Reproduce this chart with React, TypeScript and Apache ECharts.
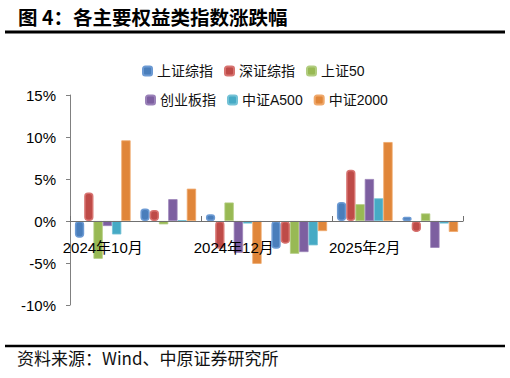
import React, { useEffect, useRef } from "react";
import * as echarts from "echarts";

const categories = ["2024年10月", "2024年11月", "2024年12月", "2025年1月", "2025年2月", "2025年3月"];
const seriesNames = ["上证综指", "深证综指", "上证50", "创业板指", "中证A500", "中证2000"];
const szzs = [-2.0, 1.5, 0.8, -3.3, 2.25, 0.5];
const szcz = [3.4, 1.3, -3.3, -2.7, 6.1, -1.3];
const sz50 = [-4.5, -0.4, 2.2, -3.9, 2.0, 0.9];
const cybz = [-0.6, 2.6, -3.8, -3.7, 5.0, -3.2];
const zzA500 = [-1.6, 0.1, -0.3, -2.9, 2.7, -0.3];
const zz2000 = [9.6, 3.85, -5.1, -1.2, 9.4, -1.3];
const yTicks = { min: -10, max: 15, interval: 5 };

const colors = ["#4A7EBB", "#BE4B48", "#98B954", "#7D5FA0", "#46AAC5", "#E0863A"];
const borders = ["#6C9AD3", "#D77370", "#B2CD80", "#9A81B8", "#74C2D6", "#EFA86B"];

const FONT = "'Liberation Sans', Arial, 'Noto Sans CJK SC', sans-serif";
const GRID = { left: 70, right: 47, top: 95, bottom: 73 };
const PLOT_H = 378 - GRID.top - GRID.bottom;

export default function App() {
  const ref = useRef<HTMLDivElement>(null);
  useEffect(() => {
    if (!ref.current) return;
    const chart = echarts.init(ref.current, undefined, { renderer: "svg" });
    const values = [szzs, szcz, sz50, cybz, zzA500, zz2000];
    const series: any[] = values.map((d, i) => ({
      name: seriesNames[i],
      type: "bar",
      data: d,
      barGap: "0%",
      barCategoryGap: "15%",
      itemStyle: {
        color: colors[i],
        borderColor: borders[i],
        borderWidth: i < 2 ? 1.5 : 0.8,
        borderRadius: i < 2 ? 3 : 0,
      },
    }));
    const zeroOffset = (PLOT_H * (0 - yTicks.min)) / (yTicks.max - yTicks.min);
    chart.setOption({
      animation: false,
      textStyle: { fontFamily: FONT },
      legend: [
        {
          data: seriesNames.slice(0, 3),
          left: 137,
          top: 59,
          itemWidth: 9,
          itemHeight: 9,
          itemGap: 11,
          icon: "roundRect",
          textStyle: { fontSize: 14, color: "#111", fontFamily: FONT },
        },
        {
          data: seriesNames.slice(3),
          left: 140,
          top: 88,
          itemWidth: 9,
          itemHeight: 9,
          itemGap: 11,
          icon: "roundRect",
          textStyle: { fontSize: 14, color: "#111", fontFamily: FONT },
        },
      ],
      grid: { ...GRID, containLabel: false },
      xAxis: {
        type: "category",
        data: categories,
        position: "bottom",
        offset: -zeroOffset,
        axisLine: { show: true, onZero: false, lineStyle: { color: "#707070", width: 1.2 } },
        axisTick: { show: true, interval: 1, inside: true, length: 5, lineStyle: { color: "#707070" } },
        axisLabel: { interval: 1, fontSize: 15, color: "#000", margin: 19, fontFamily: FONT },
        splitLine: { show: false },
        z: 5,
      },
      yAxis: {
        type: "value",
        min: yTicks.min,
        max: yTicks.max,
        interval: yTicks.interval,
        axisLine: { show: true, lineStyle: { color: "#808080", width: 1 } },
        axisTick: { show: true, length: 4, lineStyle: { color: "#808080" } },
        axisLabel: { formatter: "{value}%", fontSize: 15, color: "#000", margin: 14, fontFamily: FONT },
        splitLine: { show: false },
      },
      graphic: [
        {
          type: "text",
          left: 18,
          top: 7,
          style: {
            text: "图 4：各主要权益类指数涨跌幅",
            font: "bold 19.5px 'Noto Sans CJK SC', sans-serif",
            fill: "#000",
          },
        },
        {
          type: "line",
          shape: { x1: 5, y1: 32, x2: 505, y2: 32 },
          style: { stroke: "#000", lineWidth: 3 },
        },
        {
          type: "line",
          shape: { x1: 5, y1: 346, x2: 505, y2: 346 },
          style: { stroke: "#000", lineWidth: 2.5 },
        },
        {
          type: "text",
          left: 17,
          top: 349,
          style: {
            text: "资料来源：Wind、中原证券研究所",
            font: "17px 'Noto Sans CJK SC', sans-serif",
            fill: "#111",
          },
        },
      ],
      series,
    });
    return () => chart.dispose();
  }, []);
  return (
    <div
      ref={ref}
      style={{ position: "fixed", left: 0, top: 0, width: 510, height: 378, background: "#fff" }}
    />
  );
}
